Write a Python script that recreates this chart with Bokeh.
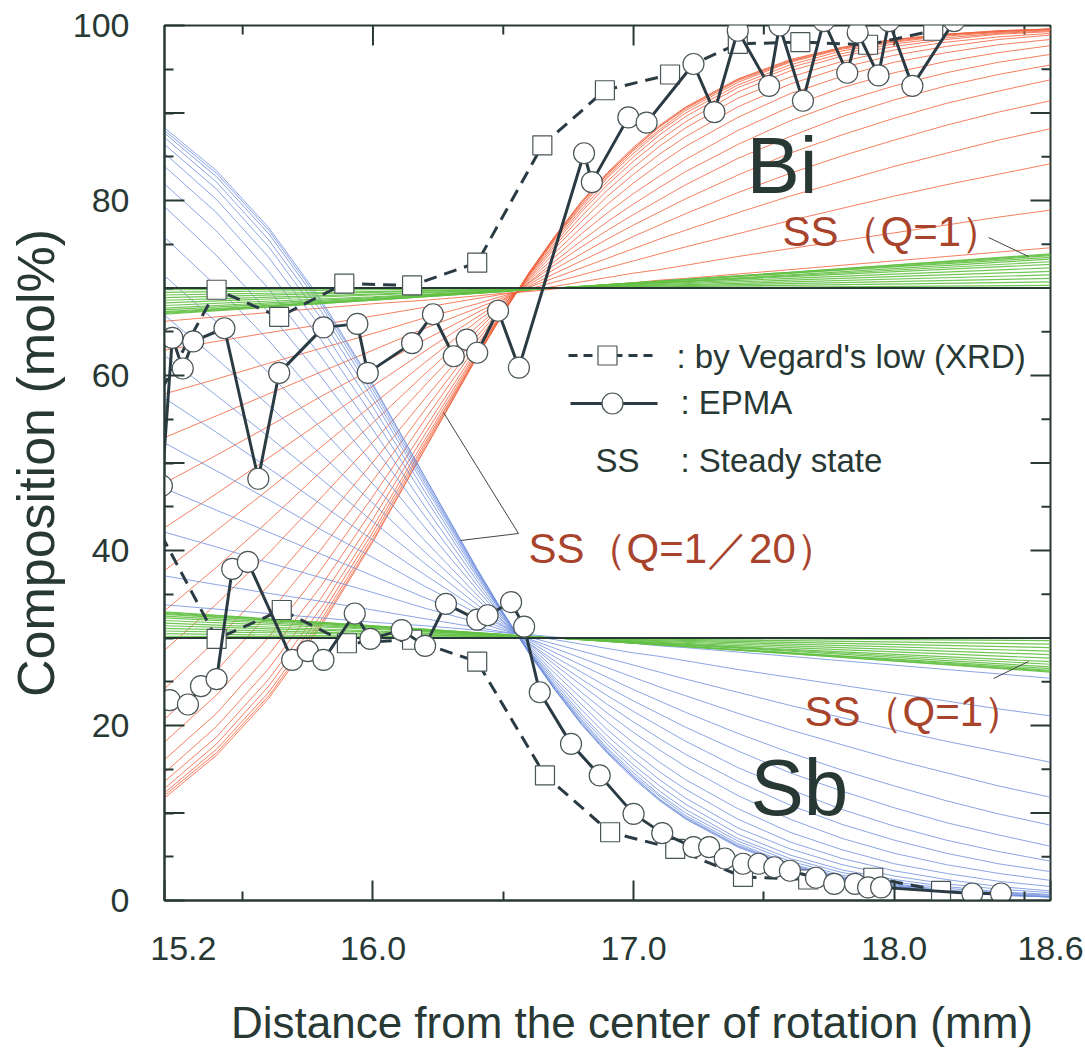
from bokeh.plotting import figure
from bokeh.models import FixedTicker, Range1d, Label
from bokeh.embed import file_html
from bokeh.resources import INLINE

# ---------------- axis ticks ----------------
x_major_ticks = [15.2, 16.0, 17.0, 18.0, 18.6]
x_tick_labels = ["\u00a0\u00a0\u00a0\u00a015.2", "16.0", "17.0", "18.0", "18.6"]
x_minor_ticks = [15.5, 16.5, 17.5, 18.5]
y_label_ticks = [0, 20, 40, 60, 80, 100]
y_tick_labels = ["0", "20", "40", "60", "80", "100"]
y_long_ticks = [10, 30, 50, 70, 90]
y_minor_ticks = [5, 15, 25, 35, 45, 55, 65, 75, 85, 95]

# ---------------- measured data ----------------
bi_xrd_x = [15.15, 15.40, 15.64, 15.89, 16.15, 16.40, 16.65, 16.89, 17.14, 17.40, 17.64, 17.90, 18.15]
bi_xrd_y = [56.3, 69.8, 66.7, 70.5, 70.3, 72.9, 86.3, 92.6, 94.4, 97.9, 98.1, 97.8, 99.4]
sb_xrd_x = [15.15, 15.40, 15.65, 15.90, 16.15, 16.40, 16.66, 16.91, 17.16, 17.42, 17.67, 17.92, 18.18]
sb_xrd_y = [43.9, 29.9, 33.2, 29.4, 29.8, 27.3, 14.3, 7.8, 5.9, 2.7, 2.4, 2.6, 1.1]

bi_epma_x = [15.19, 15.23, 15.27, 15.31, 15.43, 15.56, 15.64, 15.81, 15.94, 15.98, 16.15, 16.23,
             16.31, 16.36, 16.40, 16.48, 16.56, 16.81, 16.84, 16.98, 17.05, 17.23, 17.31, 17.40,
             17.52, 17.56, 17.65, 17.73, 17.82, 17.86, 17.94, 17.98, 18.07, 18.23]
bi_epma_y = [47.4, 64.3, 60.8, 63.9, 65.4, 48.2, 60.3, 65.5, 65.9, 60.3, 63.7, 67.0,
             62.2, 64.1, 62.6, 67.4, 60.9, 85.4, 82.1, 89.5, 88.9, 95.6, 90.1, 99.4,
             93.1, 100.0, 91.4, 100.5, 94.6, 99.2, 94.3, 100.5, 93.1, 100.5]
sb_epma_x = [15.22, 15.29, 15.34, 15.40, 15.46, 15.52, 15.69, 15.75, 15.81, 15.93, 15.99, 16.11,
             16.20, 16.28, 16.40, 16.44, 16.53, 16.58, 16.64, 16.76, 16.87, 17.00, 17.11, 17.23,
             17.29, 17.35, 17.42, 17.48, 17.54, 17.60, 17.70, 17.77, 17.85, 17.90, 17.95, 18.30, 18.41]
sb_epma_y = [22.9, 22.4, 24.5, 25.3, 37.9, 38.7, 27.5, 28.5, 27.5, 32.8, 29.9, 30.9,
             29.1, 33.9, 32.1, 32.6, 34.1, 31.3, 23.8, 17.9, 14.3, 9.9, 7.7, 6.1,
             6.1, 4.8, 4.2, 4.2, 3.8, 3.4, 2.6, 1.9, 1.9, 1.5, 1.5, 0.8, 0.8]

initial_bi = 70
initial_sb = 30

# ---------------- simulated Bi profiles, read at fixed positions ----------------
sim_x = [15.2, 15.4, 15.6, 15.8, 16.0, 16.2, 16.4, 16.5, 16.6, 16.7, 16.8, 16.9, 17.0, 17.1,
         17.2, 17.4, 17.6, 17.8, 18.0, 18.2, 18.4, 18.6]
bi_curve_01 = [66.2, 66.7, 67.2, 67.7, 68.2, 68.6, 69.1, 69.4, 69.6, 69.9, 70.1, 70.4, 70.6, 70.9, 71.1, 71.6, 72.1, 72.6, 73.1, 73.6, 74.1, 74.6]
bi_curve_02 = [62.9, 63.9, 64.9, 65.8, 66.8, 67.8, 68.8, 69.3, 69.7, 70.2, 70.7, 71.2, 71.7, 72.1, 72.6, 73.6, 74.5, 75.4, 76.3, 77.2, 78.1, 78.9]
bi_curve_03 = [57.9, 59.6, 61.4, 63.1, 64.8, 66.6, 68.2, 69.1, 69.9, 70.7, 71.5, 72.3, 73.1, 73.9, 74.7, 76.2, 77.7, 79.1, 80.5, 81.8, 83.0, 84.2]
bi_curve_04 = [52.9, 55.4, 57.9, 60.4, 62.9, 65.4, 67.7, 68.9, 70.1, 71.2, 72.3, 73.4, 74.5, 75.6, 76.6, 78.6, 80.5, 82.2, 83.9, 85.4, 86.9, 88.2]
bi_curve_05 = [47.7, 50.9, 54.2, 57.6, 60.8, 64.1, 67.2, 68.7, 70.2, 71.7, 73.1, 74.5, 75.9, 77.2, 78.5, 80.9, 83.1, 85.1, 86.9, 88.6, 90.1, 91.4]
bi_curve_06 = [42.6, 46.5, 50.6, 54.7, 58.8, 62.8, 66.7, 68.6, 70.4, 72.2, 73.9, 75.6, 77.2, 78.7, 80.2, 82.9, 85.4, 87.5, 89.4, 91.1, 92.5, 93.8]
bi_curve_07 = [37.7, 42.3, 47.0, 51.8, 56.7, 61.5, 66.2, 68.4, 70.6, 72.7, 74.7, 76.6, 78.4, 80.1, 81.8, 84.8, 87.3, 89.6, 91.5, 93.1, 94.4, 95.5]
bi_curve_08 = [33.1, 38.1, 43.4, 49.0, 54.6, 60.2, 65.6, 68.2, 70.7, 73.1, 75.4, 77.6, 79.6, 81.5, 83.3, 86.4, 89.1, 91.3, 93.1, 94.6, 95.8, 96.7]
bi_curve_09 = [28.6, 33.9, 39.7, 46.0, 52.4, 58.9, 65.1, 68.1, 70.9, 73.6, 76.2, 78.6, 80.8, 82.8, 84.7, 88.0, 90.7, 92.9, 94.6, 95.9, 96.9, 97.7]
bi_curve_10 = [24.2, 29.8, 36.0, 42.9, 50.1, 57.4, 64.5, 67.9, 71.1, 74.1, 76.9, 79.6, 82.0, 84.2, 86.2, 89.5, 92.2, 94.2, 95.8, 96.9, 97.8, 98.4]
bi_curve_11 = [20.7, 26.3, 32.8, 40.1, 48.0, 56.1, 64.0, 67.7, 71.2, 74.6, 77.6, 80.5, 83.0, 85.3, 87.3, 90.7, 93.3, 95.2, 96.6, 97.6, 98.4, 98.9]
bi_curve_12 = [18.1, 23.5, 30.1, 37.8, 46.2, 55.0, 63.5, 67.6, 71.4, 74.9, 78.2, 81.2, 83.8, 86.2, 88.3, 91.7, 94.1, 95.9, 97.2, 98.1, 98.7, 99.1]
bi_curve_13 = [16.1, 21.4, 28.1, 35.9, 44.7, 54.0, 63.1, 67.4, 71.5, 75.2, 78.7, 81.8, 84.5, 86.9, 89.0, 92.4, 94.8, 96.5, 97.6, 98.4, 99.0, 99.3]
bi_curve_14 = [14.6, 19.9, 26.5, 34.5, 43.6, 53.3, 62.8, 67.3, 71.6, 75.5, 79.0, 82.2, 85.0, 87.5, 89.6, 92.9, 95.2, 96.8, 97.9, 98.6, 99.1, 99.4]
bi_curve_15 = [13.6, 18.7, 25.3, 33.4, 42.7, 52.7, 62.6, 67.3, 71.6, 75.7, 79.3, 82.6, 85.4, 87.9, 90.0, 93.2, 95.5, 97.1, 98.1, 98.8, 99.2, 99.5]
bi_curve_16 = [12.8, 17.9, 24.5, 32.6, 42.1, 52.3, 62.4, 67.2, 71.7, 75.8, 79.5, 82.8, 85.7, 88.1, 90.3, 93.5, 95.8, 97.3, 98.2, 98.9, 99.3, 99.6]
bi_curve_17 = [12.3, 17.3, 23.8, 32.0, 41.6, 52.0, 62.3, 67.2, 71.7, 75.9, 79.7, 83.0, 85.9, 88.4, 90.5, 93.7, 95.9, 97.4, 98.3, 99.0, 99.3, 99.6]
bi_curve_18 = [12.0, 16.9, 23.4, 31.6, 41.2, 51.7, 62.2, 67.1, 71.8, 76.0, 79.8, 83.1, 85.9, 88.5, 90.6, 93.8, 96.0, 97.5, 98.4, 99.0, 99.4, 99.6]
bi_curve_19 = [11.7, 16.6, 23.1, 31.3, 41.0, 51.6, 62.1, 67.1, 71.8, 76.0, 79.9, 83.2, 86.1, 88.6, 90.7, 93.9, 96.1, 97.5, 98.4, 99.0, 99.4, 99.6]
bi_curves = [bi_curve_01, bi_curve_02, bi_curve_03, bi_curve_04, bi_curve_05, bi_curve_06, bi_curve_07,
             bi_curve_08, bi_curve_09, bi_curve_10, bi_curve_11, bi_curve_12, bi_curve_13, bi_curve_14,
             bi_curve_15, bi_curve_16, bi_curve_17, bi_curve_18, bi_curve_19]

# steady state Q=1 band (Bi), read at five positions
ss1_x = [15.2, 16.0, 16.7, 17.6, 18.6]
bi_ss1_01 = [69.8, 69.9, 70.0, 70.1, 70.3]
bi_ss1_02 = [69.5, 69.8, 70.0, 70.3, 70.7]
bi_ss1_03 = [69.2, 69.6, 70.0, 70.5, 71.1]
bi_ss1_04 = [68.9, 69.5, 70.0, 70.7, 71.5]
bi_ss1_05 = [68.6, 69.3, 70.0, 70.9, 71.9]
bi_ss1_06 = [68.3, 69.2, 70.0, 71.1, 72.3]
bi_ss1_07 = [68.0, 69.0, 70.0, 71.3, 72.7]
bi_ss1_08 = [67.7, 68.9, 70.0, 71.4, 73.0]
bi_ss1_09 = [67.5, 68.8, 70.0, 71.5, 73.3]
bi_ss1_10 = [67.3, 68.7, 70.0, 71.7, 73.5]
bi_ss1_11 = [67.2, 68.7, 70.0, 71.7, 73.7]
bi_ss1_12 = [67.1, 68.6, 70.0, 71.8, 73.8]
bi_ss1_13 = [67.0, 68.6, 70.0, 71.8, 73.9]
bi_ss1 = [bi_ss1_01, bi_ss1_02, bi_ss1_03, bi_ss1_04, bi_ss1_05, bi_ss1_06, bi_ss1_07,
          bi_ss1_08, bi_ss1_09, bi_ss1_10, bi_ss1_11, bi_ss1_12, bi_ss1_13]

# binary alloy: Sb composition is the complement of Bi
sb_curves = [[round(100 - v, 1) for v in c] for c in bi_curves]
sb_ss1 = [[round(100 - v, 1) for v in c] for c in bi_ss1]

# ---------------- style ----------------
dark = "#283834"
red_c = "#f2603a"
blue_c = "#6f8fdc"
green_c = "#62c043"
series_c = "#2b3b44"
mk_line = "#4a5558"
text_red = "#a9442c"
FONT = "Liberation Sans"
X0, X1, Y0, Y1 = 15.2, 18.6, 0, 100
PX_PER_X = 886 / (X1 - X0)
PX_PER_Y = 875 / (Y1 - Y0)


def px_x(px):
    return X0 + (px - 164) / PX_PER_X


def px_y(py):
    return (900 - py) / PX_PER_Y


p = figure(width=1085, height=1050, x_range=Range1d(X0, X1), y_range=Range1d(Y0, Y1),
           output_backend="svg", toolbar_location=None,
           min_border_left=164, min_border_right=35, min_border_top=25, min_border_bottom=150,
           background_fill_color="white", border_fill_color="white")
p.grid.visible = False
p.outline_line_color = dark
p.outline_line_width = 2


def style_axis(ax):
    ax.axis_line_color = dark
    ax.axis_line_width = 2
    ax.major_tick_line_color = dark
    ax.major_tick_line_width = 2
    ax.minor_tick_line_color = dark
    ax.minor_tick_line_width = 2
    ax.major_tick_in = 20
    ax.major_tick_out = 0
    ax.minor_tick_in = 9
    ax.minor_tick_out = 0
    ax.major_label_text_color = dark
    ax.major_label_text_font = FONT
    ax.axis_label_text_color = dark
    ax.axis_label_text_font = FONT
    ax.axis_label_text_font_style = "normal"


xb = p.below[0]
xb.ticker = FixedTicker(ticks=x_major_ticks, minor_ticks=x_minor_ticks)
style_axis(xb)
xb.major_label_overrides = dict(zip(x_major_ticks, x_tick_labels))
xb.major_label_text_font_size = "34px"
xb.major_label_standoff = 28
xb.axis_label = "\u00a0\u00a0\u00a0\u00a0Distance from the center of rotation (mm)"
xb.axis_label_text_font_size = "44px"
xb.axis_label_standoff = 28

yl = p.left[0]
yl.ticker = FixedTicker(ticks=y_label_ticks, minor_ticks=y_minor_ticks + y_long_ticks)
style_axis(yl)
yl.major_label_overrides = dict(zip(y_label_ticks, y_tick_labels))
yl.major_label_text_font_size = "34px"
yl.major_label_standoff = 35
yl.axis_label = "Composition (mol%)"
yl.axis_label_text_font_size = "52px"
yl.axis_label_standoff = 5

# inner ticks of the frame (left long ticks, right and top mirrored ticks)
long_x, short_x = 20 / PX_PER_X, 9 / PX_PER_X
long_y, short_y = 20 / PX_PER_Y, 9 / PX_PER_Y
rt_major = y_label_ticks[1:-1] + y_long_ticks
p.segment(x0=[X0] * len(y_long_ticks), y0=y_long_ticks, x1=[X0 + long_x] * len(y_long_ticks), y1=y_long_ticks,
          line_color=dark, line_width=2)
p.segment(x0=[X1] * len(rt_major), y0=rt_major, x1=[X1 - long_x] * len(rt_major), y1=rt_major,
          line_color=dark, line_width=2)
p.segment(x0=[X1] * len(y_minor_ticks), y0=y_minor_ticks, x1=[X1 - short_x] * len(y_minor_ticks), y1=y_minor_ticks,
          line_color=dark, line_width=2)
top_major = x_major_ticks[1:-1]
p.segment(x0=top_major, y0=[Y1] * len(top_major), x1=top_major, y1=[Y1 - long_y] * len(top_major),
          line_color=dark, line_width=2)
p.segment(x0=x_minor_ticks, y0=[Y1] * len(x_minor_ticks), x1=x_minor_ticks, y1=[Y1 - short_y] * len(x_minor_ticks),
          line_color=dark, line_width=2)

# simulated steady-state curves
p.multi_line(xs=[sim_x] * len(bi_curves), ys=bi_curves, line_color=red_c, line_width=0.9, line_alpha=0.9)
p.multi_line(xs=[sim_x] * len(sb_curves), ys=sb_curves, line_color=blue_c, line_width=0.9, line_alpha=0.9)
p.multi_line(xs=[ss1_x] * len(bi_ss1), ys=bi_ss1, line_color=green_c, line_width=1.2, line_alpha=0.9)
p.multi_line(xs=[ss1_x] * len(sb_ss1), ys=sb_ss1, line_color=green_c, line_width=1.2, line_alpha=0.9)

# initial composition lines
p.line(x=[X0, X1], y=[initial_bi, initial_bi], line_color=dark, line_width=2)
p.line(x=[X0, X1], y=[initial_sb, initial_sb], line_color=dark, line_width=2)

# measured series
for xs_, ys_ in ((bi_xrd_x, bi_xrd_y), (sb_xrd_x, sb_xrd_y)):
    p.line(x=xs_, y=ys_, line_color=series_c, line_width=3, line_dash="13 8")
    p.scatter(x=xs_, y=ys_, marker="square", size=19, fill_color="white", line_color=mk_line, line_width=1.2)
for xs_, ys_ in ((bi_epma_x, bi_epma_y), (sb_epma_x, sb_epma_y)):
    p.line(x=xs_, y=ys_, line_color=series_c, line_width=3)
    p.scatter(x=xs_, y=ys_, marker="circle", size=21, fill_color="white", line_color=mk_line, line_width=1.2)

# pointer lines for the SS labels
p.line(x=[px_x(988), px_x(1028)], y=[px_y(237), px_y(256)], line_color="#444", line_width=1)
p.line(x=[px_x(993), px_x(1028)], y=[px_y(678), px_y(661)], line_color="#444", line_width=1)
p.line(x=[px_x(443), px_x(518), px_x(460)], y=[px_y(412), px_y(533), px_y(540)], line_color="#444", line_width=1)

# legend samples
p.line(x=[px_x(568), px_x(652)], y=[px_y(355), px_y(355)], line_color=series_c, line_width=3, line_dash="9 6")
p.scatter(x=[px_x(607)], y=[px_y(355)], marker="square", size=19, fill_color="white", line_color=mk_line, line_width=1.2)
p.line(x=[px_x(570), px_x(657)], y=[px_y(403), px_y(403)], line_color=series_c, line_width=3)
p.scatter(x=[px_x(612)], y=[px_y(403)], marker="circle", size=21, fill_color="white", line_color=mk_line, line_width=1.2)


def add_text(px, py_mid, text, size, color=dark):
    p.add_layout(Label(x=px_x(px), y=px_y(py_mid), text=text, text_font=FONT, text_font_size=size,
                       text_color=color, text_align="left", text_baseline="middle"))


add_text(676, 356, ": by Vegard's low (XRD)", "33px")
add_text(680, 402, ": EPMA", "33px")
add_text(595, 460, "SS", "33px")
add_text(680, 460, ": Steady state", "33px")
add_text(746, 165, "Bi", "80px")
add_text(750, 787, "Sb", "80px")
add_text(782, 231, "SS（Q=1）", "42px", text_red)
add_text(804, 711, "SS（Q=1）", "42px", text_red)
add_text(528, 548, "SS（Q=1／20）", "42px", text_red)

open("out.html", "w").write(file_html(p, INLINE))
